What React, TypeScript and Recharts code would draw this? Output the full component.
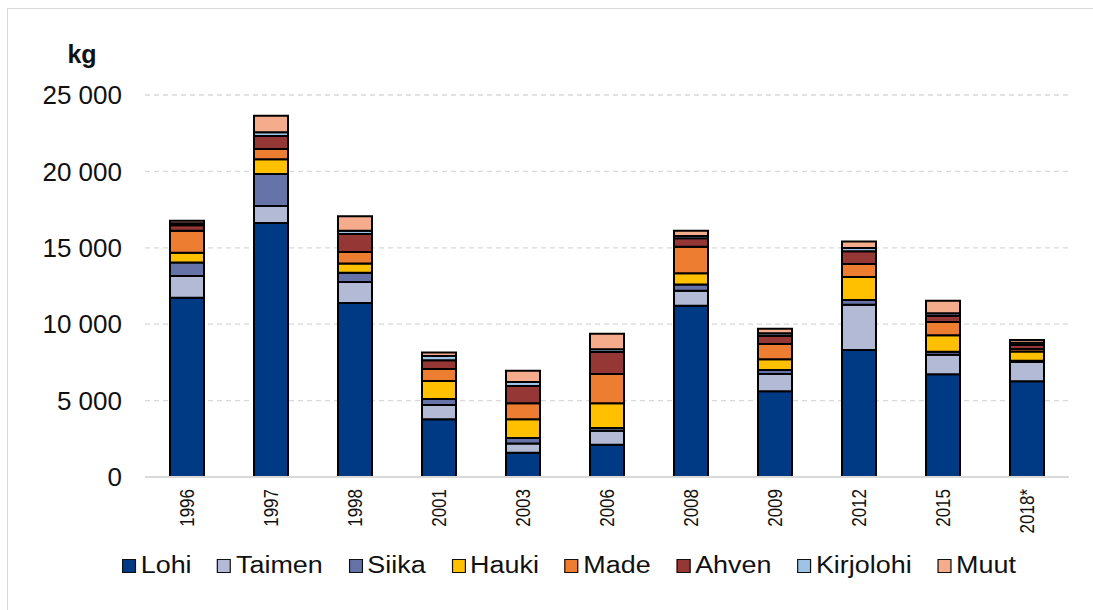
import React from 'react';
import { BarChart, Bar, XAxis, YAxis, CartesianGrid, Legend } from 'recharts';

const years = ['1996', '1997', '1998', '2001', '2003', '2006', '2008', '2009', '2012', '2015', '2018*'];
const lohi = [11730, 16620, 11390, 3780, 1590, 2110, 11210, 5610, 8310, 6720, 6260];
const taimen = [1420, 1120, 1370, 930, 610, 920, 980, 1130, 2970, 1280, 1270];
const siika = [880, 2090, 610, 390, 350, 180, 400, 260, 300, 200, 80];
const hauki = [650, 960, 610, 1180, 1230, 1610, 740, 700, 1510, 1070, 610];
const made = [1440, 680, 740, 790, 1040, 1920, 1740, 1000, 850, 870, 160];
const ahven = [350, 850, 1180, 570, 1140, 1440, 550, 550, 830, 420, 260];
const kirjolohi = [130, 240, 220, 280, 260, 180, 150, 150, 220, 150, 150];
const muut = [170, 1090, 940, 220, 740, 1020, 350, 310, 430, 830, 180];
const yTicks = [0, 5000, 10000, 15000, 20000, 25000];

const seriesDefs = [
  { key: 'Lohi', values: lohi, color: '#003A85' },
  { key: 'Taimen', values: taimen, color: '#B3BAD6' },
  { key: 'Siika', values: siika, color: '#6673A8' },
  { key: 'Hauki', values: hauki, color: '#FFC000' },
  { key: 'Made', values: made, color: '#ED7D31' },
  { key: 'Ahven', values: ahven, color: '#953735' },
  { key: 'Kirjolohi', values: kirjolohi, color: '#9DC3E6' },
  { key: 'Muut', values: muut, color: '#F4AC8C' },
];

const data = years.map((y, i) => {
  const row: Record<string, any> = { year: y };
  seriesDefs.forEach((s) => {
    row[s.key] = s.values[i];
  });
  return row;
});

const FONT = '"Liberation Sans", Arial, sans-serif';

const fmt = (v: number) => {
  const s = String(v);
  return s.replace(/\B(?=(\d{3})+(?!\d))/g, ' ');
};

const XTick = (props: any) => {
  const { x, y, payload } = props;
  return (
    <g transform={`translate(${x},${y + 4}) rotate(-90) scale(0.85,1)`}>
      <text x={0} y={0} dy="0.36em" textAnchor="end" fontSize={20} fontFamily={FONT} fill="#111">
        {payload.value}
      </text>
    </g>
  );
};

const LegendContent = () => (
  <div
    style={{
      display: 'flex',
      alignItems: 'center',
      fontFamily: FONT,
      fontSize: 23,
      color: '#111',
      transform: 'scaleX(1.17)',
      transformOrigin: 'left center',
      whiteSpace: 'nowrap',
    }}
  >
    {seriesDefs.map((s) => (
      <div key={s.key} style={{ display: 'flex', alignItems: 'center', marginRight: 22 }}>
        <span
          style={{
            display: 'inline-block',
            width: 10,
            height: 12,
            background: s.color,
            border: '1.5px solid #111',
            marginRight: 4,
          }}
        />
        <span>{s.key}</span>
      </div>
    ))}
  </div>
);

export default function App() {
  return (
    <div style={{ position: 'absolute', left: 0, top: 0, width: 1093, height: 610, background: '#fff', overflow: 'hidden' }}>
      <div
        style={{
          position: 'absolute',
          left: 7,
          top: 8,
          width: 1110,
          height: 620,
          border: '1.5px solid #d9d9d9',
        }}
      />
      <div style={{ position: 'absolute', left: 0, top: 0 }}>
        <BarChart
          width={1093}
          height={610}
          data={data}
          margin={{ top: 95, right: 24, left: 0, bottom: 0 }}
          barSize={34}
        >
          <CartesianGrid vertical={false} stroke="#d9d9d9" strokeDasharray="5 4" strokeWidth={1.3} />
          <XAxis
            dataKey="year"
            height={133}
            axisLine={{ stroke: '#d9d9d9', strokeWidth: 2 }}
            tickLine={false}
            interval={0}
            tick={<XTick />}
          />
          <YAxis
            width={145}
            domain={[0, 25000]}
            ticks={yTicks}
            tickFormatter={fmt}
            axisLine={false}
            tickLine={false}
            tickSize={0}
            tickMargin={23}
            tick={{ fontSize: 26, fontFamily: FONT, fill: '#111' }}
            label={(p: any) => {
              const vb = p.viewBox || { x: 0, y: 95 };
              return (
                <text
                  x={vb.x + 82}
                  y={vb.y - 32}
                  textAnchor="middle"
                  fontSize={25}
                  fontWeight="bold"
                  fontFamily={FONT}
                  fill="#111"
                >
                  kg
                </text>
              );
            }}
          />
          <Legend
            layout="horizontal"
            verticalAlign="middle"
            align="center"
            content={<LegendContent />}
            wrapperStyle={{ top: 552, left: 122, width: 'auto', height: 30 }}
          />
          {seriesDefs.map((s) => (
            <Bar
              key={s.key}
              dataKey={s.key}
              stackId="a"
              fill={s.color}
              stroke="#000"
              strokeWidth={2}
              isAnimationActive={false}
            />
          ))}
        </BarChart>
      </div>
    </div>
  );
}
